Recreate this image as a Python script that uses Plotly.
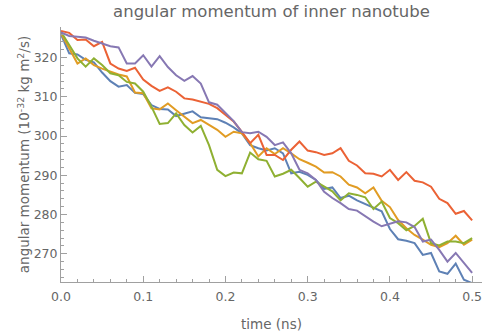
import plotly.graph_objects as go

# time axis, ns (sampled every 0.01 ns)
time_ns = [round(i * 0.01, 2) for i in range(51)]

# angular momentum, 1e-32 kg m^2/s
run_blue = [325.9, 321.1, 320.8, 319.4, 318.8, 316.2, 314.0, 312.6, 313.0, 311.0,
            310.7, 307.9, 306.9, 306.8, 305.1, 305.8, 306.3, 304.8, 304.5, 304.3,
            303.4, 302.2, 300.7, 297.7, 296.9, 296.3, 296.9, 295.6, 290.5, 290.9,
            290.1, 288.8, 286.5, 286.9, 284.2, 284.8, 283.6, 282.7, 281.9, 280.8,
            276.3, 273.7, 273.3, 272.7, 269.7, 270.2, 265.5, 264.9, 267.5, 263.4,
            262.5]
run_orange = [326.2, 322.3, 318.5, 319.8, 318.1, 317.2, 316.4, 315.7, 315.2, 311.1,
              310.9, 307.1, 306.8, 308.3, 306.6, 304.9, 303.3, 304.1, 302.8, 301.6,
              299.8, 301.1, 300.7, 298.2, 294.8, 296.9, 295.4, 296.9, 295.6, 294.1,
              293.2, 292.2, 290.7, 290.8, 289.7, 287.6, 286.9, 285.4, 286.9, 283.5,
              281.9, 278.6, 276.5, 274.8, 273.6, 272.3, 271.7, 272.7, 274.6, 272.3,
              273.6]
run_green = [326.6, 323.2, 319.8, 317.7, 319.8, 318.1, 316.0, 315.5, 313.8, 313.4,
             311.3, 307.5, 303.1, 303.3, 305.8, 302.8, 300.9, 302.6, 297.7, 291.4,
             289.8, 290.7, 290.5, 295.8, 294.1, 293.7, 289.7, 290.4, 291.4, 289.3,
             287.1, 288.4, 287.1, 285.9, 283.6, 285.4, 285.0, 284.4, 281.4, 283.3,
             279.1, 277.8, 276.0, 277.1, 278.9, 272.7, 272.1, 273.1, 273.1, 272.7,
             274.0]
run_red = [326.8, 326.3, 324.5, 324.6, 322.9, 324.0, 318.5, 317.2, 316.6, 317.4,
           314.4, 312.8, 311.5, 312.4, 311.3, 309.6, 309.3, 308.8, 308.2, 307.1,
           305.4, 303.7, 301.1, 298.2, 300.3, 295.2, 295.2, 293.9, 296.5, 298.6,
           296.3, 295.9, 295.2, 295.6, 296.9, 293.7, 292.5, 290.5, 290.4, 289.7,
           291.4, 288.8, 290.8, 288.6, 288.2, 287.1, 284.0, 282.9, 280.2, 280.9,
           278.5]
run_purple = [326.4, 325.5, 325.3, 325.1, 324.3, 323.5, 322.9, 322.6, 318.5, 318.5,
              320.6, 317.7, 320.4, 317.6, 315.5, 314.1, 315.3, 313.4, 308.6, 308.0,
              305.8, 303.8, 301.0, 300.7, 301.1, 299.8, 297.7, 298.4, 295.6, 291.4,
              290.5, 288.8, 285.8, 284.2, 282.9, 281.4, 281.0, 279.5, 278.2, 277.0,
              277.6, 278.3, 278.0, 276.8, 273.1, 273.6, 271.0, 268.0, 270.2, 267.6,
              265.1]

series = [run_blue, run_orange, run_green, run_red, run_purple]
colors = ['#5E81B5', '#E19C24', '#8FB032', '#EB6235', '#8778B3']

fig = go.Figure()
for ys, c in zip(series, colors):
    fig.add_trace(go.Scatter(x=time_ns, y=ys, mode='lines',
                             line=dict(color=c, width=2), showlegend=False))

axis_grey = '#a0a0a0'
text_grey = '#666666'

fig.update_xaxes(
    range=[0, 0.512],
    dtick=0.1, tick0=0, tickformat='.1f',
    ticks='inside', ticklen=6, tickcolor=axis_grey, tickwidth=1,
    minor=dict(dtick=0.02, ticks='inside', ticklen=3, tickcolor=axis_grey),
    showline=True, linecolor=axis_grey, linewidth=1,
    showgrid=False, zeroline=False, automargin=False,
    ticklabelstandoff=3,
    tickfont=dict(size=12.5, color=text_grey),
    title=dict(text='time (ns)', font=dict(size=13.5, color=text_grey), standoff=16),
)
fig.update_yaxes(
    range=[262.8, 327.8],
    dtick=10, tick0=270,
    ticks='inside', ticklen=6, tickcolor=axis_grey, tickwidth=1,
    minor=dict(dtick=2, ticks='inside', ticklen=3, tickcolor=axis_grey),
    showline=True, linecolor=axis_grey, linewidth=1,
    showgrid=False, zeroline=False, automargin=False,
    tickfont=dict(size=12.5, color=text_grey),
    title=dict(text='angular momentum (10<sup>-32</sup> kg m<sup>2</sup>/s)',
               font=dict(size=13.5, color=text_grey), standoff=0),
)
fig.update_layout(
    width=485, height=335,
    margin=dict(l=61, r=3, t=27, b=53, autoexpand=False),
    plot_bgcolor='white', paper_bgcolor='white',
    font=dict(family='DejaVu Sans, sans-serif', color=text_grey),
    title=dict(text='angular momentum of inner nanotube',
               x=0.5, xref='paper', y=0.985, yref='container', yanchor='top',
               font=dict(size=16.5, color=text_grey)),
)

# the page body has a default 8px margin; drop it so the figure sits at 0,0
fig.write_html("out.html", config={'displayModeBar': False},
               post_script="document.body.style.margin = '0';")
